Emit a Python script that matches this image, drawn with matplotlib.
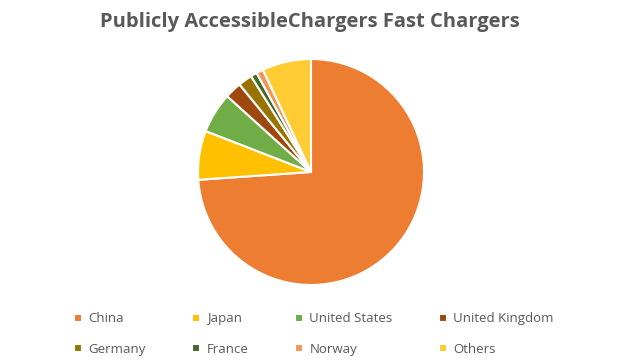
import matplotlib
matplotlib.use("Agg")
import matplotlib.pyplot as plt

# share of fast chargers (percent)
countries = ['China', 'Japan', 'United States', 'United Kingdom',
             'Germany', 'France', 'Norway', 'Others']
shares = [73.9, 7.0, 5.8, 2.4, 2.0, 0.9, 1.0, 7.0]
colors = ['#ED7D31', '#FFC000', '#70AD47', '#9E480E',
          '#997300', '#43682B', '#F1975A', '#FFCD33']

plt.rcParams['font.family'] = ['Open Sans', 'DejaVu Sans']

fig = plt.figure(figsize=(6.2, 3.63), dpi=100)
ax = fig.add_axes([198 / 620, 78 / 363, 226 / 620, 226 / 363])

wedges, _ = ax.pie(shares, colors=colors, startangle=90, counterclock=False,
                   wedgeprops=dict(edgecolor='white', linewidth=1.5))
ax.set_xlim(-1.0, 1.0)
ax.set_ylim(-1.0, 1.0)
ax.set_aspect('equal')

fig.text(0.5, 1 - 22 / 363, 'Publicly AccessibleChargers Fast Chargers',
         ha='center', va='center', fontsize=14.5, fontweight='bold',
         color='#595959')

# legend fills column by column, so reorder to get row-wise layout
order = [0, 4, 1, 5, 2, 6, 3, 7]
leg = fig.legend([wedges[i] for i in order], [countries[i] for i in order],
                 ncol=4, loc='center',
                 bbox_to_anchor=(314 / 620, 1 - 334 / 363), frameon=False,
                 fontsize=9.5, labelcolor='#595959', handlelength=0.6,
                 handleheight=0.6, handletextpad=0.5, columnspacing=3.5,
                 labelspacing=1.3)

fig.savefig('out.png', dpi=100)
